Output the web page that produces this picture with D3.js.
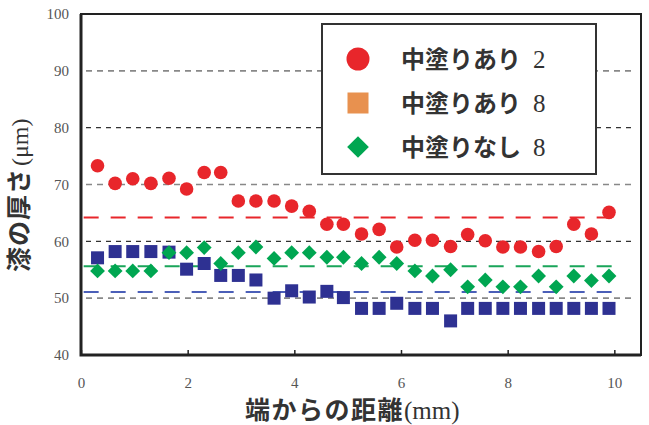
<!DOCTYPE html>
<html><head>
<meta charset="utf-8">
<script src="https://d3js.org/d3.v7.min.js"></script>
<style>
  body { margin: 0; background: #fff; }
  .tick-label { font-family: "Liberation Serif", "DejaVu Serif", serif; font-size: 15px; fill: #555; }
  .jp { font-family: "Noto Sans CJK JP", "Noto Sans CJK SC", sans-serif; font-weight: 700; fill: #333; }
  .serif { font-family: "Liberation Serif", serif; font-weight: 400; fill: #333; }
</style>
</head>
<body>
<svg id="chart" width="649" height="425"></svg>
<script>
  // distance from the edge (mm), same for all three series
  const xs = [0.31, 0.64, 0.97, 1.31, 1.65, 1.98, 2.31, 2.62, 2.95, 3.28,
              3.62, 3.95, 4.28, 4.61, 4.92, 5.26, 5.59, 5.92, 6.26, 6.59,
              6.93, 7.25, 7.58, 7.91, 8.24, 8.58, 8.91, 9.24, 9.57, 9.9];

  // coating thickness (um)
  const withCoat2 = [73.3, 70.2, 71.0, 70.2, 71.1, 69.2, 72.1, 72.1, 67.1, 67.1,
                     67.1, 66.2, 65.3, 63.0, 63.0, 61.3, 62.1, 59.0, 60.2, 60.2,
                     59.1, 61.2, 60.1, 59.0, 59.0, 58.2, 59.1, 63.0, 61.3, 65.1];
  const withCoat8 = [57.1, 58.2, 58.2, 58.2, 58.1, 55.1, 56.1, 54.0, 54.0, 53.2,
                     50.0, 51.3, 50.2, 51.2, 50.1, 48.2, 48.2, 49.1, 48.2, 48.2,
                     46.0, 48.2, 48.2, 48.2, 48.2, 48.2, 48.2, 48.2, 48.2, 48.2];
  const noCoat8   = [54.8, 54.8, 54.8, 54.8, 58.0, 58.0, 58.9, 56.1, 58.0, 59.0,
                     57.0, 58.0, 58.0, 57.2, 57.2, 56.1, 57.2, 56.1, 54.8, 53.9,
                     55.0, 52.0, 53.2, 52.0, 52.0, 53.9, 52.0, 53.9, 53.1, 53.9];

  // mean levels drawn as long dashes
  const means = [64.2, 51.1, 55.6];

  const xTicks = [0, 2, 4, 6, 8, 10];
  const yTicks = [40, 50, 60, 70, 80, 90, 100];
  const gridDark = [60, 80];
  const gridLight = [50, 70, 90];

  const legendNames = ["中塗りあり", "中塗りあり", "中塗りなし"];
  const legendNums = ["2", "8", "8"];

  const svg = d3.select("#chart");
  const x = d3.scaleLinear().domain([0, 10.5]).range([81, 641]);
  const y = d3.scaleLinear().domain([40, 100]).range([355, 14]);

  // grid
  svg.selectAll("line.gl").data(gridLight).join("line")
    .attr("x1", 86).attr("x2", 636)
    .attr("y1", d => y(d)).attr("y2", d => y(d))
    .attr("stroke", "#888").attr("stroke-width", 1.6)
    .attr("stroke-dasharray", "6,5");
  svg.selectAll("line.gd").data(gridDark).join("line")
    .attr("x1", 86).attr("x2", 636)
    .attr("y1", d => y(d)).attr("y2", d => y(d))
    .attr("stroke", "#333").attr("stroke-width", 1.2)
    .attr("stroke-dasharray", "5,5");

  // mean lines
  const meanColors = ["#e8262b", "#4b5fb8", "#1aa55a"];
  svg.selectAll("line.mean").data(means).join("line")
    .attr("x1", x(0.05)).attr("x2", x(9.95))
    .attr("y1", d => y(d)).attr("y2", d => y(d))
    .attr("stroke", (d, i) => meanColors[i]).attr("stroke-width", 2)
    .attr("stroke-dasharray", "15,12");

  // frame
  svg.append("rect").attr("x", 81).attr("y", 14).attr("width", 560).attr("height", 341)
    .attr("fill", "none").attr("stroke", "#222").attr("stroke-width", 2);
  svg.append("path").attr("d", "M81,14V355H641")
    .attr("fill", "none").attr("stroke", "#222").attr("stroke-width", 3);

  // x axis ticks (inward) and labels
  const xAxis = d3.axisBottom(x).tickValues(xTicks).tickSize(-5).tickPadding(22)
    .tickFormat(d3.format("d"));
  const gx = svg.append("g").attr("transform", "translate(0,355)").call(xAxis);
  gx.select(".domain").remove();
  gx.selectAll(".tick line").attr("stroke", "#222").attr("stroke-width", 1.5);
  gx.selectAll(".tick text").attr("class", "tick-label").attr("fill", null);

  const yAxis = d3.axisLeft(y).tickValues(yTicks).tickSize(0).tickPadding(12);
  const gy = svg.append("g").attr("transform", "translate(81,0)").call(yAxis);
  gy.select(".domain").remove();
  gy.selectAll(".tick text").attr("class", "tick-label").attr("fill", null);

  // markers
  const sq = 13;
  svg.selectAll("rect.b").data(withCoat8).join("rect")
    .attr("x", (d, i) => x(xs[i]) - sq / 2).attr("y", d => y(d) - sq / 2)
    .attr("width", sq).attr("height", sq).attr("fill", "#2e3192");
  const dia = d3.symbol().type(d3.symbolDiamond2).size(140);
  svg.selectAll("path.g").data(noCoat8).join("path")
    .attr("d", dia)
    .attr("transform", (d, i) => `translate(${x(xs[i])},${y(d)})`)
    .attr("fill", "#00a651");
  svg.selectAll("circle.r").data(withCoat2).join("circle")
    .attr("cx", (d, i) => x(xs[i])).attr("cy", d => y(d))
    .attr("r", 6.8).attr("fill", "#e8262b");

  // legend
  const lg = svg.append("g");
  lg.append("rect").attr("x", 322).attr("y", 24).attr("width", 274).attr("height", 150)
    .attr("fill", "#fff").attr("stroke", "#333").attr("stroke-width", 2);
  const rowY = [59, 103, 147];
  lg.append("circle").attr("cx", 358).attr("cy", rowY[0]).attr("r", 11.5).attr("fill", "#e8262b");
  lg.append("rect").attr("x", 347.5).attr("y", rowY[1] - 10.5).attr("width", 21).attr("height", 21)
    .attr("fill", "#e8914f");
  lg.append("path").attr("d", d3.symbol().type(d3.symbolDiamond2).size(300))
    .attr("transform", `translate(358,${rowY[2]})`).attr("fill", "#00a651");
  rowY.forEach((ry, i) => {
    const t = lg.append("text").attr("x", 401).attr("y", ry + 8.5);
    t.append("tspan").attr("class", "jp").attr("font-size", 24).text(legendNames[i]);
    t.append("tspan").attr("class", "serif").attr("font-size", 25).attr("dx", 12).text(legendNums[i]);
  });

  // axis titles
  const xt = svg.append("text").attr("x", 245).attr("y", 419);
  xt.append("tspan").attr("class", "jp").attr("font-size", 25).attr("letter-spacing", 1.5)
    .text("端からの距離");
  xt.append("tspan").attr("class", "serif").attr("font-size", 25).attr("dx", 0).text("(mm)");

  const yt = svg.append("text").attr("transform", "translate(28,272) rotate(-90)");
  yt.append("tspan").attr("class", "jp").attr("font-size", 25).attr("letter-spacing", 1)
    .text("漆の厚さ");
  yt.append("tspan").attr("class", "serif").attr("font-size", 24).attr("dx", 2).text("(μm)");
</script>
</body>
</html>
